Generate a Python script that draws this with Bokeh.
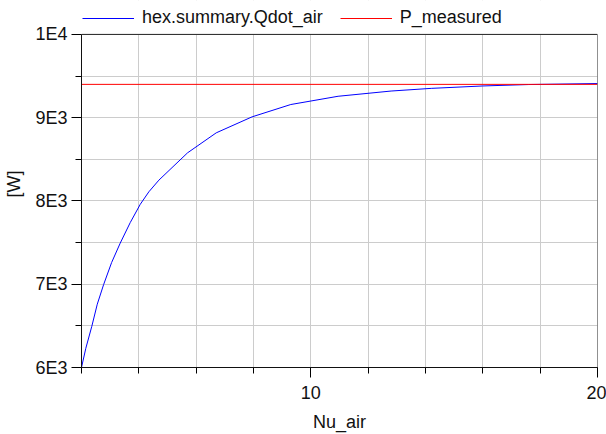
from bokeh.plotting import figure
from bokeh.models import (SingleIntervalTicker, CustomJSTickFormatter, Legend, LegendItem,
                          Range1d, BoxAnnotation)
from bokeh.embed import file_html
from bokeh.resources import INLINE

# Data
nu_air = [2.0, 2.15, 2.36, 2.55, 2.77, 3.05, 3.35, 3.7, 4.05, 4.35, 4.7, 5.7, 6.7,
          7.95, 9.3, 10.95, 12.8, 14.2, 16.0, 17.6, 20.0]
qdot_air = [6000, 6230, 6495, 6760, 6994, 7260, 7493, 7740, 7960, 8110, 8250, 8578, 8818,
            9010, 9158, 9257, 9320, 9352, 9381, 9398, 9410]
nu_meas = [2.0, 20.0]
p_measured = [9400, 9400]

series_names = ["hex.summary.Qdot_air", "P_measured"]
x_label = "Nu_air"
y_label = "[W]"
x_min, x_max = 2, 20
y_min, y_max = 6000, 10000

FONT = "Liberation Sans"
FS = "18px"

# layout: plot frame spans 334 px for the data range; 34 px above it hold the legend
TOP_PX, DATA_PX = 34, 334
y_top = y_max + (y_max - y_min) * TOP_PX / DATA_PX

p = figure(width=606, height=434, output_backend="svg", toolbar_location=None,
           x_range=Range1d(x_min, x_max), y_range=Range1d(y_min, y_top),
           min_border_left=81, min_border_right=9, min_border_top=0, min_border_bottom=66)

r1 = p.line(nu_air, qdot_air, line_color="#0000ff", line_width=1)
r2 = p.line(nu_meas, p_measured, line_color="#ff0000", line_width=1)

# X axis
p.xaxis.ticker = SingleIntervalTicker(interval=10, num_minor_ticks=5)
p.xgrid.ticker = SingleIntervalTicker(interval=2)
# Y axis
p.yaxis.ticker = SingleIntervalTicker(interval=1000, num_minor_ticks=2)
p.yaxis.bounds = (y_min, y_max)
p.ygrid.ticker = SingleIntervalTicker(interval=500)
p.yaxis.formatter = CustomJSTickFormatter(code="""
const e = Math.floor(Math.log10(tick) + 1e-9);
const m = Math.round(tick / Math.pow(10, e) * 100) / 100;
return m + 'E' + e;
""")

for ax in (p.xaxis, p.yaxis):
    ax.axis_line_color = "black"
    ax.axis_line_width = 1
    ax.major_tick_line_color = "black"
    ax.minor_tick_line_color = "black"
    ax.major_tick_in = 0
    ax.major_tick_out = 10
    ax.minor_tick_in = 0
    ax.minor_tick_out = 6
    ax.major_label_text_font = FONT
    ax.major_label_text_font_size = FS
    ax.major_label_text_color = "#111111"
    ax.axis_label_text_font = FONT
    ax.axis_label_text_font_size = FS
    ax.axis_label_text_font_style = "normal"
    ax.axis_label_text_color = "#111111"

p.xaxis.axis_label = x_label
p.yaxis.axis_label = y_label
p.xaxis.major_label_standoff = 8
p.yaxis.major_label_standoff = 4
p.xaxis.axis_label_standoff = 10
p.yaxis.axis_label_standoff = 8

p.xgrid.grid_line_color = "#cccccc"
p.ygrid.grid_line_color = "#cccccc"
p.xgrid.grid_line_width = 1
p.ygrid.grid_line_width = 1

p.outline_line_color = None
p.background_fill_color = "white"
p.border_fill_color = "white"

# blank strip above the data area (holds the legend)
p.add_layout(BoxAnnotation(bottom=y_max, fill_color="white", fill_alpha=1.0,
                           line_alpha=0))
# frame around the data area
p.add_layout(BoxAnnotation(left=x_min, right=x_max, bottom=y_min, top=y_max,
                           fill_alpha=0, line_color="#222222", line_width=1,
                           line_alpha=1))

legend = Legend(items=[LegendItem(label=series_names[0], renderers=[r1]),
                       LegendItem(label=series_names[1], renderers=[r2])],
                orientation="horizontal", location=(1, 339),
                label_text_font=FONT, label_text_font_size=FS,
                label_text_color="#111111",
                glyph_width=52, label_standoff=8, spacing=17,
                padding=0, margin=0, border_line_color=None,
                background_fill_alpha=0)
p.add_layout(legend)

open("out.html", "w").write(file_html(p, INLINE))
